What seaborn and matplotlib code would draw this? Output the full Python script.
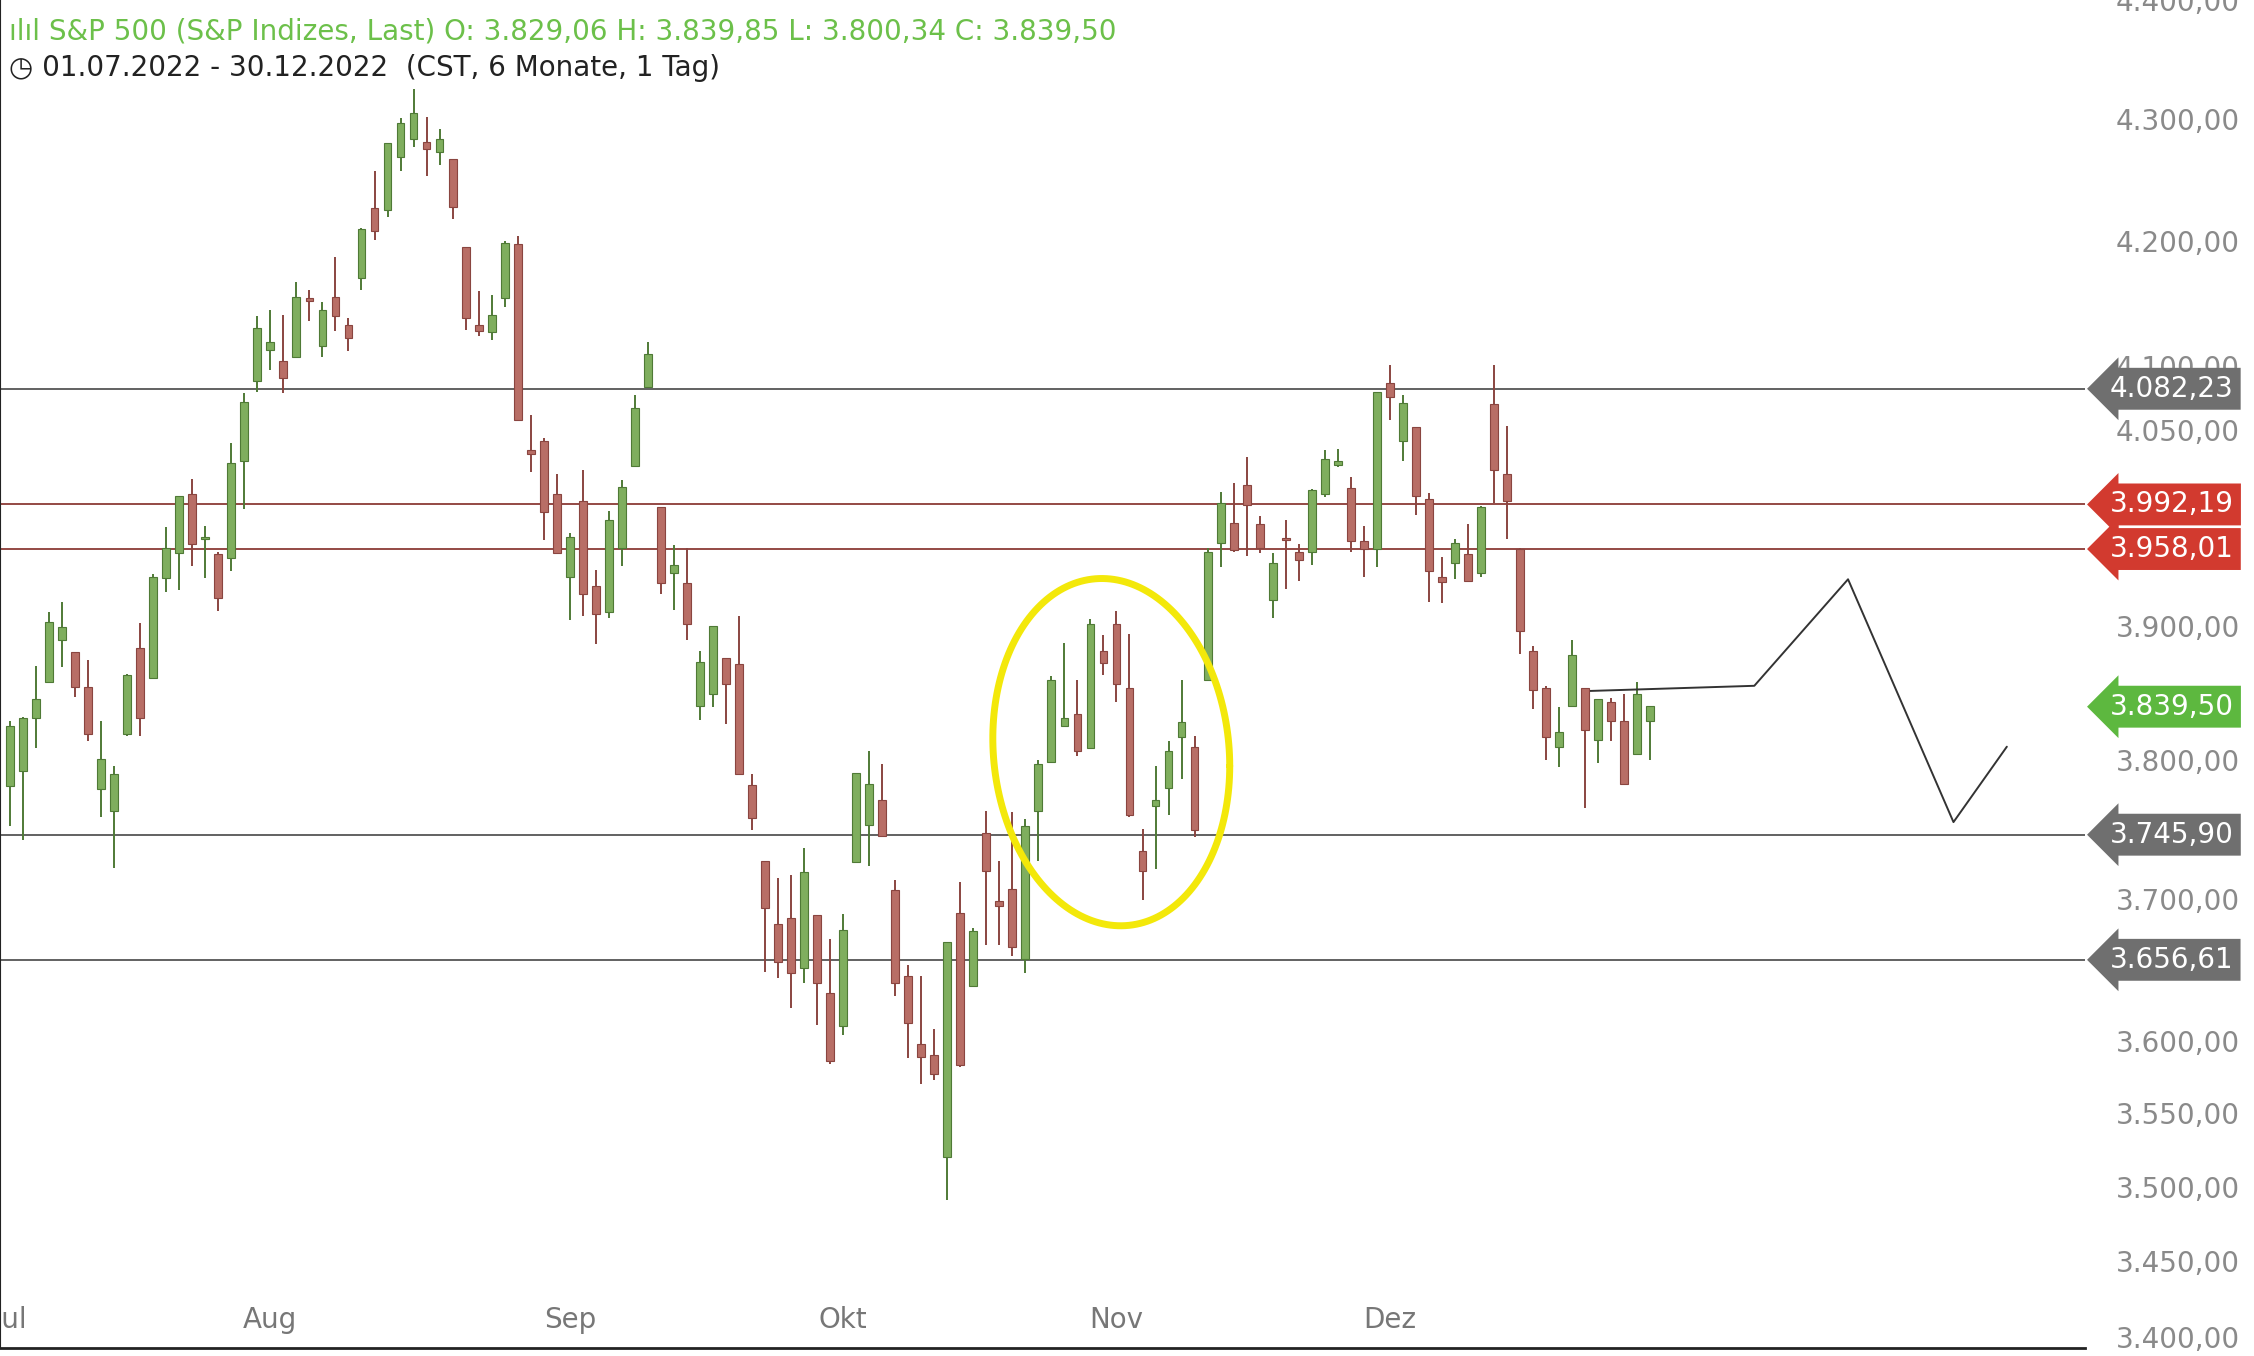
import numpy as np
import pandas as pd
import matplotlib
matplotlib.use("Agg")
import matplotlib.pyplot as plt
import seaborn as sns

opens = [3781,3792,3831,3858,3889,3880,3854,3779,3763,3819,3883,3861,3936,3955,4000,3966,3954,3951,4026,4088,
 4113,4104,4107,4154,4116,4155,4133,4170,4227,4225,4269,4284,4281,4273,4267,4195,4133,4127,4154,4198,4034,4041,4000,
 3937,3995,3930,3910,3959,4022,4084,3990,3940,3932,3840,3849,3876,3871,3782,3727,3682,3686,3651,3688,3633,
 3610,3726,3753,3771,3706,3645,3598,3590,3520,3690,3638,3747,3698,3707,3657,3763,3799,3825,3834,3809,3881,
 3901,3853,3734,3767,3780,3817,3810,3859,3963,3978,4007,3977,3919,3966,3956,3956,4000,4023,4005,3964,3958,
 4087,4041,4052,3996,3937,3947,3954,3940,4070,4016,3958,3881,3853,3810,3840,3853,3815,3843,3829,3805,3829]
highs = [3829,3832,3870,3910,3918,3880,3874,3829,3796,3864,3902,3939,3975,3999,4012,3976,3956,4040,4079,4140,
 4145,4141,4167,4161,4151,4187,4138,4211,4257,4280,4301,4325,4302,4292,4267,4195,4160,4157,4200,4204,4062,4044,4016,
 3970,4019,3942,3987,4011,4077,4119,3990,3961,3959,3881,3900,3876,3907,3790,3727,3715,3717,3736,3688,3671,
 3689,3791,3807,3797,3713,3653,3645,3608,3666,3712,3679,3763,3727,3762,3757,3800,3862,3887,3859,3905,3893,
 3911,3894,3750,3796,3814,3859,3818,3959,4002,4009,4029,3983,3955,3980,3962,4004,4034,4035,4013,3976,4080,
 4101,4077,4052,4001,3952,3966,3977,3991,4101,4053,3959,3885,3855,3839,3889,3853,3845,3846,3849,3858,3840]
lows = [3752,3742,3809,3858,3869,3847,3814,3759,3722,3818,3818,3861,3925,3927,3945,3936,3911,3941,3989,4080,
 4097,4079,4107,4136,4107,4128,4112,4161,4201,4220,4257,4277,4253,4262,4218,4129,4124,4121,4147,4058,4017,3965,3954,
 3904,3907,3886,3906,3945,4022,4084,3924,3912,3889,3830,3839,3827,3789,3749,3648,3644,3623,3640,3611,3584,
 3604,3726,3723,3744,3631,3588,3570,3573,3491,3582,3638,3667,3667,3659,3647,3727,3799,3825,3803,3809,3863,
 3843,3759,3699,3721,3760,3786,3744,3859,3944,3956,3953,3955,3906,3928,3934,3946,3998,4021,3956,3937,3944,
 4058,4026,3984,3918,3917,3935,3933,3937,3993,3966,3879,3838,3800,3795,3839,3765,3798,3814,3783,3805,3800]
closes = [3825,3831,3845,3903,3899,3854,3819,3801,3790,3863,3831,3937,3959,3999,3962,3967,3921,4024,4072,4130,
 4119,4091,4155,4152,4145,4140,4122,4210,4208,4280,4297,4305,4275,4284,4228,4138,4128,4141,4199,4058,4031,3986,3955,
 3967,3924,3909,3980,4006,4067,4110,3932,3946,3901,3873,3900,3856,3790,3758,3693,3655,3647,3719,3640,3586,
 3678,3791,3783,3745,3640,3612,3589,3577,3669,3583,3677,3720,3695,3666,3752,3797,3859,3831,3807,3901,3872,
 3856,3760,3720,3771,3807,3828,3749,3956,3993,3957,3992,3959,3947,3965,3950,4003,4027,4026,3964,3958,4080,
 4076,4071,3999,3941,3933,3963,3934,3990,4019,3995,3896,3852,3817,3821,3878,3822,3845,3829,3783,3849,3840]

month_labels = ["Jul", "Aug", "Sep", "Okt", "Nov", "Dez"]
month_start_idx = [0, 20, 43, 64, 85, 106]
level_values = [4082.23, 3992.19, 3958.01, 3745.90, 3656.61]
level_kinds = ["gray", "red", "red", "gray", "gray"]
last_close = 3839.50
ytick_values = [4400, 4300, 4200, 4100, 4050, 3900, 3800, 3700, 3600, 3550, 3500, 3450, 3400]
# hand-drawn annotations
path_x = [120.8, 134.0, 141.2, 149.3, 153.4]
path_y = [3851, 3855, 3935, 3755, 3810]
ellipse_center = (84.6, 3806)
ellipse_w = 18.2
ellipse_top, ellipse_bot = 3934, 3680

df = pd.DataFrame({"i": np.arange(len(closes)), "o": opens, "h": highs, "l": lows, "c": closes})
sns.set_style("white")
plt.rcParams['font.family'] = ['DejaVu Sans']

fig = plt.figure(figsize=(22.54, 13.56), dpi=100)
ax = fig.add_axes([0.0, 0.006, 0.925, 0.994])
ax.set_yscale("log")
ax.set_ylim(3393, 4396)
ax.set_xlim(-0.77, 159.4)

up = df["c"] >= df["o"]
gcol, rcol = "#7fae5e", "#b86e66"
colors = np.where(up, gcol, rcol)
edges = np.where(up, "#4f7a36", "#8a4540")
ax.vlines(df["i"], df["l"], df["h"], colors=edges, linewidth=1.4, zorder=2)
bot = np.minimum(df["o"], df["c"])
hgt = np.maximum(np.abs(df["c"] - df["o"]), 1.5)
ax.bar(df["i"], hgt, bottom=bot, width=0.6, color=colors, edgecolor=edges, linewidth=0.8, zorder=3)

for v, k in zip(level_values, level_kinds):
    ax.axhline(v, color="#8b3a36" if k == "red" else "#555555", linewidth=1.3, zorder=1)

tr = matplotlib.transforms.blended_transform_factory(ax.transAxes, ax.transData)
def tag(v, fc):
    s = f"{v:,.2f}".replace(",", "X").replace(".", ",").replace("X", ".")
    ax.text(1.012, v, s, transform=tr, ha="left", va="center", color="white", fontsize=20,
            bbox=dict(boxstyle="larrow,pad=0.25", fc=fc, ec="none"), zorder=10, clip_on=False)
for v, k in zip(level_values, level_kinds):
    tag(v, "#d23a2f" if k == "red" else "#6f6f6f")
tag(last_close, "#5db83f")

# hand drawn
sns.lineplot(x=path_x, y=path_y, ax=ax, color="#333333", linewidth=1.4, sort=False)
t = np.linspace(0, 2*np.pi, 200)
lc = np.log(ellipse_center[1]); lr = (np.log(ellipse_top) - np.log(ellipse_bot)) / 2
tilt = 0.12
ex = ellipse_center[0] + ellipse_w/2*np.cos(t) + tilt*ellipse_w*np.sin(t)*0.0
ey = np.exp(lc + lr*np.sin(t) - 0.02*np.cos(t)*lr*4)
ax.plot(ex, ey, color="#f3e80a", linewidth=5, zorder=5)

ax.set_yticks(ytick_values)
ax.set_yticklabels([f"{v:,.2f}".replace(",", "X").replace(".", ",").replace("X", ".") for v in ytick_values])
ax.yaxis.set_minor_locator(matplotlib.ticker.NullLocator())
ax.yaxis.tick_right()
ax.tick_params(axis="y", length=0, pad=22, labelsize=20, labelcolor="#8a8a8a")
ax.set_xticks(month_start_idx)
ax.set_xticklabels(month_labels)
ax.tick_params(axis="x", length=0, pad=-30, labelsize=20, labelcolor="#777777")
for s in ["top", "right"]:
    ax.spines[s].set_visible(False)
ax.spines["left"].set_color("#222222")
ax.spines["bottom"].set_color("#222222")
ax.spines["bottom"].set_linewidth(2)
ax.set_xlabel(""); ax.set_ylabel("")

fig.text(0.004, 0.977, "ılıl S&P 500 (S&P Indizes, Last) O: 3.829,06 H: 3.839,85 L: 3.800,34 C: 3.839,50",
         color="#6cc04a", fontsize=20, va="center")
fig.text(0.004, 0.950, "◷ 01.07.2022 - 30.12.2022  (CST, 6 Monate, 1 Tag)", color="#222222", fontsize=20, va="center")
fig.savefig("out.png", dpi=100)
